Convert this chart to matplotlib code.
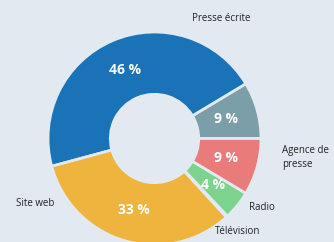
import matplotlib
matplotlib.use("Agg")
import matplotlib.pyplot as plt
import numpy as np

categories = ["", "Presse écrite", "Site web", "Télévision", "Radio", "Agence de\npresse"]
values = [8.6, 45.6, 32.6, 0.2, 4.4, 8.6]
colors = ["#7b9ea8", "#1a73b6", "#efb43e", "#9fd3c0", "#7dd38e", "#e97b7b"]
pct_labels = ["9 %", "46 %", "33 %", "", "4 %", "9 %"]

bg = "#e2e9f1"
plt.rcParams['font.family'] = ['Open Sans', 'DejaVu Sans']

fig = plt.figure(figsize=(3.34, 2.42), dpi=100, facecolor=bg)
ax = fig.add_axes([0, 0, 1, 1])
ax.set_facecolor(bg)

R = 1.0
width = 0.585
wedges, _ = ax.pie(values, colors=colors, startangle=0, counterclock=True,
                   radius=R, wedgeprops=dict(width=width, edgecolor=bg, linewidth=2))

# percentage labels inside ring
for w, lab in zip(wedges, pct_labels):
    if not lab:
        continue
    ang = np.deg2rad((w.theta1 + w.theta2) / 2)
    r = 0.70
    ax.text(r * np.cos(ang), r * np.sin(ang), lab, ha="center", va="center",
            color="white", fontsize=10, fontweight="bold")

# category labels (positions in polar form: angle deg, radius, alignment)
label_pos = {"Presse écrite": (60.9, 1.285, "center"),
             "Site web": (208.5, 1.27, "center"),
             "Télévision": (-48, 1.17, "center"),
             "Radio": (-32.5, 1.20, "center"),
             "Agence de\npresse": (-8.3, 1.21, "left")}
for name in categories:
    if name in label_pos:
        a, r, ha = label_pos[name]
        a = np.deg2rad(a)
        ax.text(r * np.cos(a), r * np.sin(a), name, ha=ha, va="center",
                color="#222222", fontsize=7, linespacing=1.4)

# axis limits: center at (154.5, 138.5) px, radius 106.5 px
scale = 106.5
ax.set_xlim(-154.5 / scale, (334 - 154.5) / scale)
ax.set_ylim(-(242 - 138.5) / scale, 138.5 / scale)
ax.set_aspect("auto")
ax.axis("off")

fig.savefig("out.png", dpi=100, facecolor=bg)
